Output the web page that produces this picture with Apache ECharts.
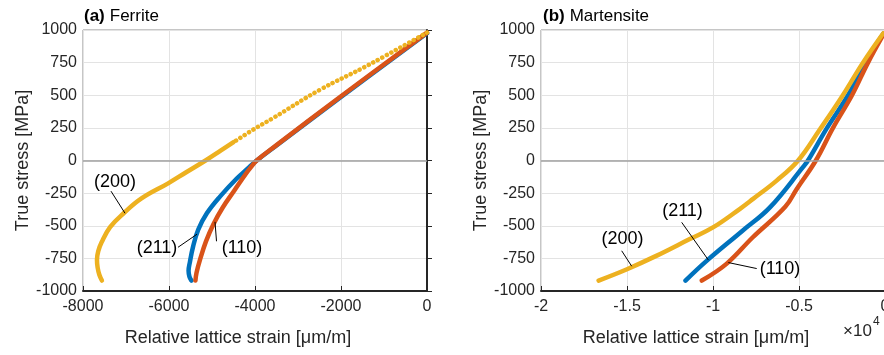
<!DOCTYPE html>
<html>
<head>
<meta charset="utf-8">
<script src="https://cdn.jsdelivr.net/npm/echarts@6/dist/echarts.min.js"></script>
<style>
  html, body { margin: 0; padding: 0; background: #ffffff; }
  #chart { width: 884px; height: 355px; }
</style>
</head>
<body>
<div id="chart"></div>
<script>
// [strain µm/m, stress MPa]
const ferrite211 = [[0, 975], [-2000, 487], [-3500, 115], [-3960, 0], [-4180, -65], [-4430, -140], [-4810, -275], [-5120, -405], [-5320, -530], [-5440, -660], [-5515, -780], [-5545, -845], [-5525, -890], [-5480, -920]];
const ferrite110 = [[0, 980], [-2000, 492], [-3500, 118], [-3960, 0], [-4080, -45], [-4220, -105], [-4480, -230], [-4750, -360], [-4970, -490], [-5140, -620], [-5270, -750], [-5360, -860], [-5385, -920]];
const ferrite200 = [[0, 980], [-1400, 725], [-2500, 540], [-3580, 325], [-4000, 245], [-4500, 140], [-4800, 75], [-5150, 0], [-5600, -90], [-6020, -175], [-6640, -291], [-7060, -406], [-7370, -510], [-7565, -625], [-7645, -695], [-7675, -760], [-7660, -820], [-7620, -875], [-7560, -920]];

const mart211 = [[-80, 975], [-1160, 750], [-2150, 500], [-3370, 250], [-4480, 0], [-4770, -51], [-6690, -359], [-8300, -540], [-10370, -769], [-11600, -920]];
const mart110 = [[-50, 975], [-988, 750], [-1919, 500], [-3023, 250], [-4020, 0], [-5130, -218], [-5800, -355], [-7700, -590], [-9200, -790], [-10650, -920]];
const mart200 = [[-100, 975], [-1280, 750], [-2450, 500], [-3800, 235], [-5050, 0], [-6300, -154], [-7650, -292], [-8450, -372], [-10000, -513], [-11350, -602], [-13300, -731], [-15000, -833], [-16650, -920]];

// label text, text centre, leader start, leader end (data coords)
const ferriteNotes = [
  { text: "(200)", at: [-7256, -165], from: [-7349, -235], to: [-7023, -404] },
  { text: "(211)", at: [-6279, -673], from: [-5791, -665], to: [-5349, -565] },
  { text: "(110)", at: [-4302, -673], from: [-4895, -619], to: [-4930, -470] },
];
const martNotes = [
  { text: "(200)", at: [-15262, -600], from: [-15308, -692], to: [-14727, -810] },
  { text: "(211)", at: [-11773, -385], from: [-11820, -474], to: [-10273, -762] },
  { text: "(110)", at: [-6105, -831], from: [-7459, -828], to: [-9110, -782] },
];

const panelTitles = ["(a)", "(b)"];
const panelNames = ["Ferrite", "Martensite"];

const FONT = '"Liberation Sans", Arial, Helvetica, sans-serif';
const BLUE = "#0072BD";
const RED = "#D95319";
const YELLOW = "#EDB120";
const INK = "#262626";
const DOT_END = -4500; // (200) ferrite: dotted above this strain

const chart = echarts.init(document.getElementById("chart"));

const yAxisBase = (gridIndex) => ({
  type: "value",
  gridIndex,
  min: -1000,
  max: 1000,
  interval: 250,
  name: "True stress [MPa]",
  nameLocation: "middle",
  nameGap: 50,
  nameTextStyle: { fontFamily: FONT, fontSize: 18, color: INK },
  axisLine: { show: true, lineStyle: { color: INK, width: 2 } },
  axisTick: { show: true, inside: true, length: 5, lineStyle: { color: INK } },
  axisLabel: { fontFamily: FONT, fontSize: 16, color: INK, margin: 6, formatter: (v) => String(v) },
  splitLine: { show: true, lineStyle: { color: "#e3e3e3", width: 1 } },
});

const xAxisBase = (gridIndex, min, interval, fmt) => ({
  type: "value",
  gridIndex,
  min,
  max: 0,
  interval,
  name: "Relative lattice strain [μm/m]",
  nameLocation: "middle",
  nameGap: 38,
  nameTextStyle: { fontFamily: FONT, fontSize: 18, color: INK, padding: [0, 34, 0, 0] },
  axisLine: { show: true, onZero: false, lineStyle: { color: INK, width: 2 } },
  axisTick: { show: true, inside: true, length: 5, lineStyle: { color: INK } },
  axisLabel: { fontFamily: FONT, fontSize: 16, color: INK, margin: 8, formatter: fmt },
  splitLine: { show: true, lineStyle: { color: "#e3e3e3", width: 1 } },
});

function notes(list) {
  return {
    markLine: {
      silent: true,
      symbol: "none",
      animation: false,
      label: { show: false },
      lineStyle: { color: "#000000", width: 1, type: "solid" },
      data: list.map((n) => [{ coord: n.from }, { coord: n.to }]),
    },
    markPoint: {
      silent: true,
      symbol: "circle",
      symbolSize: 0,
      animation: false,
      label: {
        show: true,
        position: "inside",
        fontFamily: FONT,
        fontSize: 18,
        color: "#000000",
        formatter: (p) => p.name,
      },
      data: list.map((n) => ({ name: n.text, coord: n.at })),
    },
  };
}

function curve(name, data, color, idx, extra) {
  return Object.assign(
    {
      name,
      type: "line",
      xAxisIndex: idx,
      yAxisIndex: idx,
      data,
      smooth: 0.4,
      showSymbol: false,
      symbol: "none",
      animation: false,
      lineStyle: { color, width: 4.5, cap: "round", join: "round" },
    },
    extra || {}
  );
}

const zeroLine = {
  markLine: {
    silent: true,
    symbol: "none",
    animation: false,
    label: { show: false },
    lineStyle: { color: "#a0a0a0", width: 1.5, type: "solid" },
    data: [{ yAxis: 0 }],
  },
};

const option = {
  backgroundColor: "#ffffff",
  animation: false,
  title: panelTitles.map((t, i) => ({
    text: "{b|" + t + "} {n|" + panelNames[i] + "}",
    left: i === 0 ? 84 : 543,
    top: 7,
    padding: 0,
    textStyle: {
      fontWeight: "normal",
      rich: {
        b: { fontFamily: FONT, fontSize: 17, fontWeight: "bold", color: "#000000" },
        n: { fontFamily: FONT, fontSize: 17, fontWeight: "normal", color: "#000000" },
      },
    },
  })),
  grid: [
    { left: 83, right: 457, top: 30, bottom: 64, outerBoundsMode: "none", show: true, borderColor: "#8c8c8c", borderWidth: 1 },
    { left: 541, right: -1, top: 30, bottom: 64, outerBoundsMode: "none", show: true, borderColor: "#8c8c8c", borderWidth: 1 },
  ],
  xAxis: [
    xAxisBase(0, -8000, 2000, (v) => String(v)),
    xAxisBase(1, -20000, 5000, (v) => String(v / 10000)),
  ],
  yAxis: [yAxisBase(0), yAxisBase(1)],
  series: [
    curve("zero-a", [], INK, 0, zeroLine),
    curve("zero-b", [], INK, 1, zeroLine),
    curve("(211)", ferrite211, BLUE, 0),
    curve("(110)", ferrite110, RED, 0),
    curve("(200) upper", ferrite200.filter((p) => p[0] >= DOT_END), YELLOW, 0, {
      lineStyle: { color: YELLOW, width: 4.5, cap: "round", type: [0.1, 5] },
    }),
    curve("(200)", ferrite200.filter((p) => p[0] <= DOT_END), YELLOW, 0, notes(ferriteNotes)),
    curve("(211) m", mart211, BLUE, 1),
    curve("(110) m", mart110, RED, 1),
    curve("(200) m", mart200, YELLOW, 1, notes(martNotes)),
  ],
  graphic: [
    {
      type: "text",
      left: 843,
      top: 323,
      style: { text: "×10", fontFamily: FONT, fontSize: 17, fill: INK },
    },
    {
      type: "text",
      left: 873,
      top: 316,
      style: { text: "4", fontFamily: FONT, fontSize: 12, fill: INK },
    },
  ],
};

chart.setOption(option);
window.addEventListener("resize", () => chart.resize());
</script>
</body>
</html>
